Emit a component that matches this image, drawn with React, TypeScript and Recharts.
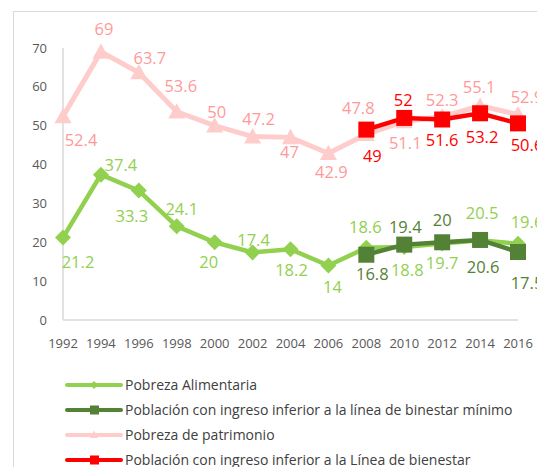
import { LineChart, Line, XAxis, YAxis } from 'recharts'

const years = ['1992', '1994', '1996', '1998', '2000', '2002', '2004', '2006', '2008', '2010', '2012', '2014', '2016']
const pobrezaAlimentaria = [21.2, 37.4, 33.3, 24.1, 20, 17.4, 18.2, 14, 18.6, 18.8, 19.7, 20.5, 19.6]
const bienestarMinimo = [null, null, null, null, null, null, null, null, 16.8, 19.4, 20, 20.6, 17.5]
const pobrezaPatrimonio = [52.4, 69, 63.7, 53.6, 50, 47.2, 47, 42.9, 47.8, 51.1, 52.3, 55.1, 52.9]
const lineaBienestar = [null, null, null, null, null, null, null, null, 49, 52, 51.6, 53.2, 50.6]
const yTicks = [0, 10, 20, 30, 40, 50, 60, 70]

const data = years.map((year, i) => ({
  year,
  alim: pobrezaAlimentaria[i],
  minimo: bienestarMinimo[i],
  patrimonio: pobrezaPatrimonio[i],
  bienestar: lineaBienestar[i],
}))

// label placement (dx, dy of text centre relative to the point)
const alimOffsets = [[15, 25], [20, -9], [-7, 26], [5, -17], [-6, 20], [1, -12], [1, 21], [4, 22], [-1, -21], [3, 23], [0, 20], [2, -27], [9, -22]]
const minimoOffsets = [[0, 0], [0, 0], [0, 0], [0, 0], [0, 0], [0, 0], [0, 0], [0, 0], [6, 20], [1, -17], [0, -22], [3, 27], [9, 31]]
const patrimonioOffsets = [[18, 24], [3, -23], [11, -14], [4, -26], [2, -13], [6, -17], [-1, 15], [3, 19], [-8, -26], [1, 22], [0, -17], [-1, -19], [9, -17]]
const bienestarOffsets = [[0, 0], [0, 0], [0, 0], [0, 0], [0, 0], [0, 0], [0, 0], [0, 0], [6, 27], [-1, -18], [0, 21], [2, 24], [9, 22]]

const FONT = '"Open Sans", "Noto Sans", sans-serif'
const LIGHT_GREEN = '#92D050'
const DARK_GREEN = '#538135'
const PINK = '#FFCCCC'
const PINK_TEXT = '#FF9999'
const RED = '#FF0000'

const diamond = (color: string, r: number) => (props: any) => {
  const { cx, cy, index } = props
  if (cx == null || cy == null || props.value == null) return <g key={index} />
  return <path key={index} d={`M${cx},${cy - r}L${cx + r},${cy}L${cx},${cy + r}L${cx - r},${cy}Z`} fill={color} />
}

const square = (color: string, r: number) => (props: any) => {
  const { cx, cy, index } = props
  if (cx == null || cy == null || props.value == null) return <g key={index} />
  return <rect key={index} x={cx - r} y={cy - r} width={2 * r} height={2 * r} fill={color} />
}

const triangle = (color: string, r: number) => (props: any) => {
  const { cx, cy, index } = props
  if (cx == null || cy == null || props.value == null) return <g key={index} />
  return <path key={index} d={`M${cx},${cy - r}L${cx + r},${cy + r * 0.8}L${cx - r},${cy + r * 0.8}Z`} fill={color} />
}

const label = (color: string, offsets: number[][]) => (props: any) => {
  const { x, y, index, value } = props
  if (value == null || x == null) return <g key={index} />
  const [dx, dy] = offsets[index]
  return (
    <text key={index} x={x + dx} y={y + dy} dy="0.35em" textAnchor="middle" fill={color} fontSize={16.5} fontFamily={FONT}>
      {value}
    </text>
  )
}

const legendItems = [
  { name: 'Pobreza Alimentaria', color: LIGHT_GREEN, marker: 'diamond' },
  { name: 'Población con ingreso inferior a la línea de binestar mínimo', color: DARK_GREEN, marker: 'square' },
  { name: 'Pobreza de patrimonio', color: PINK, marker: 'triangle' },
  { name: 'Población con ingreso inferior a la Línea de bienestar', color: RED, marker: 'square' },
]

function LegendIcon({ color, marker }: { color: string; marker: string }) {
  return (
    <svg width={58} height={12} style={{ display: 'block' }}>
      <line x1={2} y1={6} x2={56} y2={6} stroke={color} strokeWidth={4} strokeLinecap="round" />
      {marker === 'diamond' && <path d="M29,2L33,6L29,10L25,6Z" fill={color} />}
      {marker === 'square' && <rect x={25} y={1.5} width={9} height={9} fill={color} />}
      {marker === 'triangle' && <path d="M29,1.5L33,9L25,9Z" fill={color} />}
    </svg>
  )
}

export default function App() {
  return (
    <div style={{ position: 'relative', width: 545, height: 475, margin: -8, overflow: 'hidden', background: '#fff' }}>
      <div
        style={{
          position: 'absolute',
          left: 13,
          top: 11,
          width: 600,
          height: 500,
          borderLeft: '1.5px solid #D9D9D9',
          borderTop: '1.5px solid #D9D9D9',
        }}
      />
      <div style={{ position: 'absolute', left: 0, top: 0 }}>
        <LineChart width={545} height={475} data={data} margin={{ top: 48, right: 27, left: 13, bottom: 125 }}>
          <XAxis
            dataKey="year"
            height={30}
            tickLine={false}
            axisLine={{ stroke: '#D9D9D9', strokeWidth: 1.5 }}
            tick={{ fill: '#595959', fontSize: 13, fontFamily: FONT }}
            tickMargin={13}
            interval={0}
          />
          <YAxis
            width={50}
            domain={[0, 70]}
            ticks={yTicks}
            tickLine={false}
            axisLine={{ stroke: '#D9D9D9', strokeWidth: 1.5 }}
            tick={{ fill: '#595959', fontSize: 13, fontFamily: FONT }}
            tickMargin={10}
          />
          <Line
            dataKey="alim"
            stroke={LIGHT_GREEN}
            strokeWidth={4.5}
            dot={diamond(LIGHT_GREEN, 8)}
            activeDot={false}
            label={label(LIGHT_GREEN, alimOffsets)}
            isAnimationActive={false}
          />
          <Line
            dataKey="minimo"
            stroke={DARK_GREEN}
            strokeWidth={4.5}
            dot={square(DARK_GREEN, 8)}
            activeDot={false}
            label={label(DARK_GREEN, minimoOffsets)}
            isAnimationActive={false}
          />
          <Line
            dataKey="patrimonio"
            stroke={PINK}
            strokeWidth={5}
            dot={triangle(PINK, 8.5)}
            activeDot={false}
            label={label(PINK_TEXT, patrimonioOffsets)}
            isAnimationActive={false}
          />
          <Line
            dataKey="bienestar"
            stroke={RED}
            strokeWidth={4.5}
            dot={square(RED, 8)}
            activeDot={false}
            label={label(RED, bienestarOffsets)}
            isAnimationActive={false}
          />
        </LineChart>
      </div>
      <div style={{ position: 'absolute', left: 65, top: 372 }}>
        {legendItems.map((item) => (
          <div key={item.name} style={{ display: 'flex', alignItems: 'center', height: 25 }}>
            <LegendIcon color={item.color} marker={item.marker} />
            <span style={{ marginLeft: 2, fontFamily: FONT, fontSize: 14, color: '#404040', whiteSpace: 'nowrap' }}>{item.name}</span>
          </div>
        ))}
      </div>
    </div>
  )
}
